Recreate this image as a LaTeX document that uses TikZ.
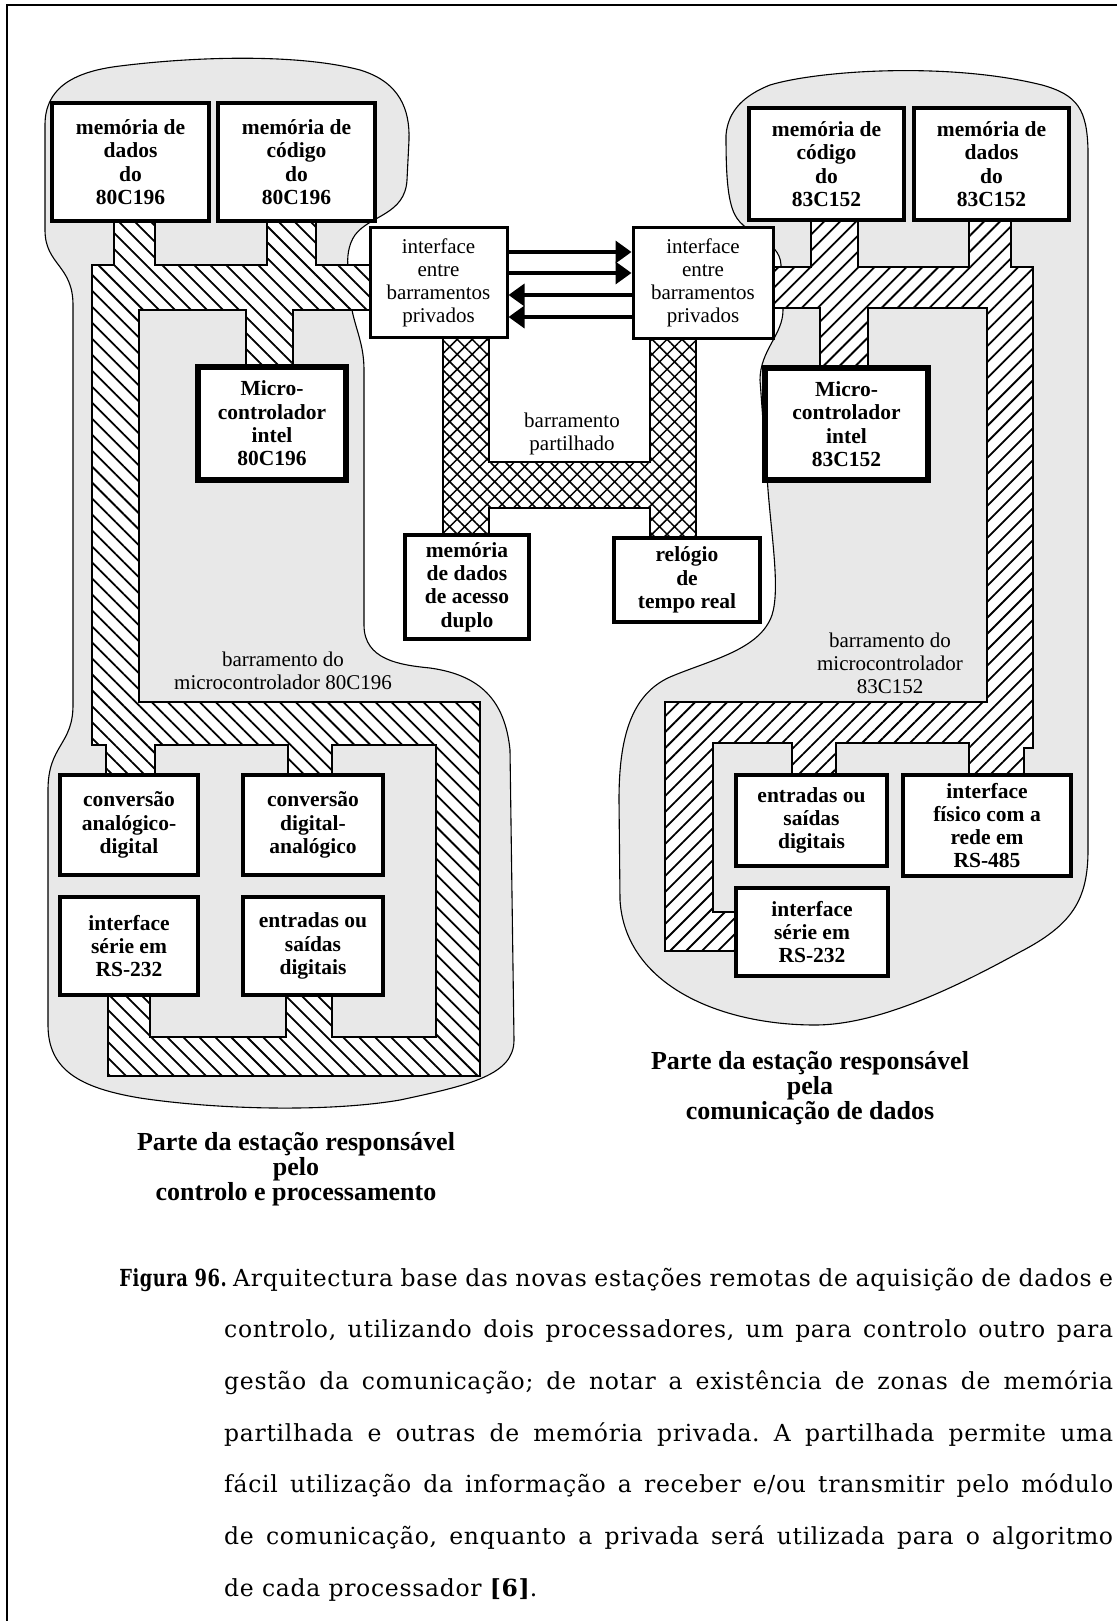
\documentclass[tikz,border=0pt]{standalone}
\usepackage{graphicx}
\usepackage{fontspec}
\setmainfont{Liberation Serif}
\newfontfamily\capfont[LetterSpace=3]{DejaVu Serif}
\usetikzlibrary{patterns.meta,arrows.meta}

\newcommand\bxfont{\fontsize{21.5}{23.3}\selectfont\bfseries}
\newcommand\rgfont{\fontsize{21}{23}\selectfont}
\newcommand\ttlfont{\fontsize{26}{25}\selectfont\bfseries}
\newcommand\cpfont{\capfont\fontsize{23.5}{26}\selectfont\frenchspacing}

\begin{document}
\begin{tikzpicture}[x=1pt,y=-1pt,
  blob/.style={fill=black!9, draw=black, line width=1.1pt},
  busL/.style={preaction={fill=white}, pattern={Lines[angle=-45,distance=11.3pt,line width=1.8pt]}, draw=black, line width=1.2pt},
  busR/.style={preaction={fill=white}, pattern={Lines[angle=45,distance=11.3pt,line width=1.8pt]}, draw=black, line width=1.2pt},
  shared/.style={preaction={fill=white}, pattern={Hatch[angle=45,distance=10.6pt,line width=1.5pt]}, draw=black, line width=1.5pt},
  box/.style={draw=black, fill=white, inner sep=0pt, align=center, font=\bxfont},
  mem/.style={box, line width=4.5pt},
  mcu/.style={box, line width=6.5pt},
  ifc/.style={box, line width=3pt, font=\rgfont},
  lbl/.style={align=center, inner sep=0pt, font=\rgfont},
  ttl/.style={align=center, inner sep=0pt, font=\ttlfont},
  capline/.style={anchor=base west, inner sep=0pt, font=\cpfont},
  busarrow/.style={line width=3.5pt, -{Triangle[length=16pt,width=22pt]}}
]
\useasboundingbox (0,0) rectangle (1117,1621);

% page frame (top and left rules)
\draw[line width=2.5pt] (7,1621) -- (7,5) -- (1117,5);

% station part for control and processing
\path[blob] (45,230) -- (45,125)
  .. controls (45,90) and (70,72) .. (120,66)
  .. controls (200,56) and (300,54) .. (360,70)
  .. controls (400,82) and (410,110) .. (409,140)
  -- (407,180)
  .. controls (405,215) and (370,215) .. (355,235)
  .. controls (348,245) and (347,258) .. (348,268)
  -- (352,310)
  .. controls (356,330) and (364,345) .. (364,370)
  -- (364,625)
  .. controls (364,660) and (400,665) .. (430,668)
  .. controls (480,675) and (505,700) .. (510,750)
  -- (514,1040)
  .. controls (514,1075) and (470,1085) .. (400,1100)
  .. controls (330,1112) and (220,1110) .. (140,1098)
  .. controls (80,1088) and (48,1070) .. (48,1025)
  -- (48,790)
  .. controls (48,745) and (73,745) .. (73,705)
  -- (73,305)
  .. controls (73,265) and (45,265) .. (45,230)
  -- cycle;

% station part for data communication
\path[blob] (726,135)
  .. controls (728,110) and (745,95) .. (770,85)
  .. controls (820,70) and (950,62) .. (1042,85)
  .. controls (1078,95) and (1087,110) .. (1088,150)
  -- (1088,850)
  .. controls (1088,900) and (1072,925) .. (1020,952)
  .. controls (960,985) and (880,1025) .. (815,1025)
  .. controls (720,1025) and (625,985) .. (620,900)
  -- (619,800)
  .. controls (619,740) and (630,695) .. (670,677)
  .. controls (710,660) and (760,650) .. (772,615)
  .. controls (780,590) and (772,540) .. (768,490)
  -- (760,380)
  .. controls (760,350) and (783,335) .. (783,310)
  -- (781,265)
  .. controls (780,240) and (745,235) .. (735,215)
  .. controls (727,200) and (726,170) .. (726,135)
  -- cycle;

% private bus of the 80C196
\path[busL] (92,265) -- (114,265) -- (114,221) -- (155,221) -- (155,265)
  -- (267,265) -- (267,221) -- (316,221) -- (316,265) -- (370,265)
  -- (370,310) -- (293,310) -- (293,367) -- (246,367) -- (246,310)
  -- (139,310) -- (139,702) -- (480,702) -- (480,1076) -- (108,1076)
  -- (108,995) -- (150,995) -- (150,1037) -- (286,1037) -- (286,995)
  -- (332,995) -- (332,1037) -- (436,1037) -- (436,745) -- (332,745)
  -- (332,775) -- (288,775) -- (288,745) -- (155,745) -- (155,775)
  -- (106,775) -- (106,745) -- (92,745) -- cycle;

% private bus of the 83C152
\path[busR] (773,267) -- (811,267) -- (811,220) -- (858,220) -- (858,267)
  -- (969,267) -- (969,220) -- (1011,220) -- (1011,267) -- (1033,267)
  -- (1033,748) -- (1024,748) -- (1024,775) -- (969,775) -- (969,743)
  -- (836,743) -- (836,775) -- (792,775) -- (792,743) -- (713,743)
  -- (713,912) -- (736,912) -- (736,951) -- (665,951) -- (665,702)
  -- (987,702) -- (987,308) -- (868,308) -- (868,368) -- (820,368)
  -- (820,308) -- (773,308) -- cycle;

% shared bus
\path[shared] (443,337) -- (489,337) -- (489,462) -- (650,462) -- (650,338)
  -- (696,338) -- (696,538) -- (650,538) -- (650,508) -- (489,508)
  -- (489,535) -- (443,535) -- cycle;

% blocks
\node[mem, minimum width=157pt, minimum height=118pt] (memDL) at (130.5,162) {memória de\\dados\\do\\80C196};
\node[mem, minimum width=157pt, minimum height=118pt] (memCL) at (296.5,162) {memória de\\código\\do\\80C196};
\node[ifc, minimum width=137pt, minimum height=109pt] (ifL) at (438.5,282.5) {interface\\entre\\barramentos\\privados};
\node[ifc, minimum width=140pt, minimum height=110pt] (ifR) at (703,283) {interface\\entre\\barramentos\\privados};
\node[mem, minimum width=155pt, minimum height=112pt] (memCR) at (826.5,164) {memória de\\código\\do\\83C152};
\node[mem, minimum width=155pt, minimum height=112pt] (memDR) at (991.5,164) {memória de\\dados\\do\\83C152};
\node[mcu, minimum width=148pt, minimum height=113pt] (mcuL) at (272,423.5) {Micro-\\controlador\\intel\\80C196};
\node[mcu, minimum width=163pt, minimum height=112pt] (mcuR) at (846.5,424) {Micro-\\controlador\\intel\\83C152};
\node[mem, minimum width=124pt, minimum height=104pt] (dual) at (467,587) {memória\\de dados\\de acesso\\duplo};
\node[mem, minimum width=146pt, minimum height=84pt] (rtc) at (687,580) {relógio\\de\\tempo real};
\node[mem, minimum width=138pt, minimum height=100pt] (adL) at (129,825) {conversão\\analógico-\\digital};
\node[mem, minimum width=140pt, minimum height=100pt] (daL) at (313,825) {conversão\\digital-\\analógico};
\node[mem, minimum width=138pt, minimum height=98pt] (rsL) at (129,946) {interface\\série em\\RS-232};
\node[mem, minimum width=140pt, minimum height=98pt] (ioL) at (313,946) {entradas ou\\saídas\\digitais};
\node[mem, minimum width=151pt, minimum height=91pt] (ioR) at (811.5,820.5) {entradas ou\\saídas\\digitais};
\node[mem, minimum width=168pt, minimum height=101pt] (rs485) at (987,825.5) {interface\\físico com a\\rede em\\RS-485};
\node[mem, minimum width=152pt, minimum height=88pt] (rsR) at (812,932) {interface\\série em\\RS-232};

% links between the two private-bus interfaces
\coordinate (a1) at ([yshift=30.5pt]ifL.east);
\coordinate (a2) at ([yshift=9.5pt]ifL.east);
\coordinate (a3) at ([yshift=-12.5pt]ifL.east);
\coordinate (a4) at ([yshift=-34.5pt]ifL.east);
\draw[busarrow] (a1) -- (a1 -| ifR.west);
\draw[busarrow] (a2) -- (a2 -| ifR.west);
\draw[busarrow] (a3 -| ifR.west) -- (a3);
\draw[busarrow] (a4 -| ifR.west) -- (a4);

% bus labels
\node[lbl] (sharedlbl) at (572,434) {barramento\\partilhado};
\node[lbl] (busLlbl) at (283,671) {barramento do\\microcontrolador 80C196};
\node[lbl] (busRlbl) at (890,663) {barramento do\\microcontrolador\\83C152};

% part titles
\node[ttl] (ttlL) at (296,1169) {Parte da estação responsável\\pelo\\controlo e processamento};
\node[ttl] (ttlR) at (810,1088) {Parte da estação responsável\\pela\\comunicação de dados};

% figure caption
\node[capline, anchor=base east] (fignum) at (227,1286) {\bfseries\scalebox{0.76}[1]{Figura 96.}};
\node[capline] (cl1) at (233,1286) {\makebox[880pt][s]{Arquitectura base das novas estações remotas de aquisição de dados e}};
\node[capline] (cl2) at (224,1337.7) {\makebox[889pt][s]{controlo, utilizando dois processadores, um para controlo outro para}};
\node[capline] (cl3) at (224,1389.4) {\makebox[889pt][s]{gestão da comunicação; de notar a existência de zonas de memória}};
\node[capline] (cl4) at (224,1441.1) {\makebox[889pt][s]{partilhada e outras de memória privada. A partilhada permite uma}};
\node[capline] (cl5) at (224,1492.8) {\makebox[889pt][s]{fácil utilização da informação a receber e/ou transmitir pelo módulo}};
\node[capline] (cl6) at (224,1544.5) {\makebox[889pt][s]{de comunicação, enquanto a privada será utilizada para o algoritmo}};
\node[capline] (cl7) at (224,1596.2) {de cada processador {\bfseries [6]}.};
\end{tikzpicture}
\end{document}
